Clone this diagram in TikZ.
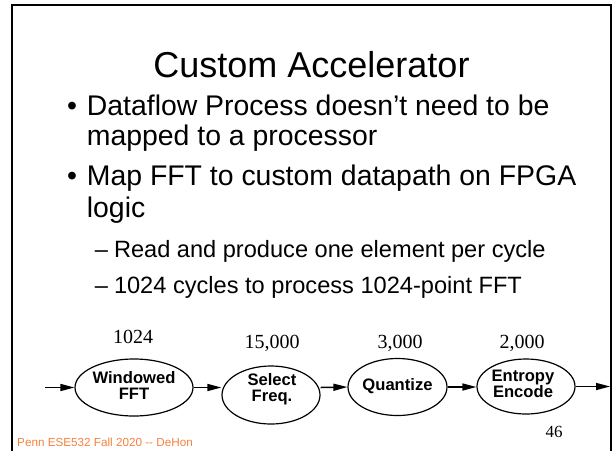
\documentclass[tikz,border=0pt]{standalone}
\usepackage{fontspec}
\setmainfont{Liberation Sans}
\newfontfamily\numfont{Liberation Serif}
\usetikzlibrary{shapes.geometric,arrows.meta}
\definecolor{footorange}{HTML}{F5813F}
\begin{document}
\begin{tikzpicture}[x=1pt,y=-1pt,
  txt/.style={inner sep=0pt,anchor=base west},
  proc/.style={draw,ellipse,line width=1.2pt,inner sep=0pt},
  proclbl/.style={inner sep=0pt,align=center,font=\fontsize{16.6}{15.5}\selectfont\bfseries},
  cnt/.style={inner sep=0pt,anchor=base,font=\numfont\fontsize{20}{24}\selectfont},
  flow/.style={line width=1.5pt,-{Triangle[length=14pt,width=7pt]}}]
\useasboundingbox (0,0) rectangle (613,451);
% slide frame (open at the bottom)
\draw[line width=2.4pt] (12,451) -- (12,5) -- (611,5) -- (611,451);
% title
\node[inner sep=0pt,anchor=base,font=\fontsize{36}{40}\selectfont] (title) at (311.5,77) {Custom Accelerator};
% bullets
\begin{scope}[font=\fontsize{28.4}{32}\selectfont]
\node[txt] (b1) at (67,115) {•};
\node[txt] (b1a) at (86.7,115) {Dataflow Process doesn’t need to be};
\node[txt] (b1b) at (86.7,145) {mapped to a processor};
\node[txt] (b2) at (67,185) {•};
\node[txt] (b2a) at (86.7,185) {Map FFT to custom datapath on FPGA};
\node[txt] (b2b) at (86.7,217) {logic};
\end{scope}
\begin{scope}[font=\fontsize{23.6}{28}\selectfont]
\node[txt] (s1) at (94.6,257) {–};
\node[txt] (s1a) at (113.8,257) {Read and produce one element per cycle};
\node[txt] (s2) at (94.6,293) {–};
\node[txt] (s2a) at (113.8,293) {1024 cycles to process 1024-point FFT};
\end{scope}
% process ellipses
\node[proc,minimum width=118pt,minimum height=57pt] (fft) at (134,387.5) {};
\node[proc,minimum width=98pt,minimum height=58pt] (sel) at (271,395) {};
\node[proc,minimum width=99pt,minimum height=57pt] (quant) at (397.5,387) {};
\node[proc,minimum width=98pt,minimum height=55pt] (ent) at (526,386.5) {};
\node[proclbl] (fftT) at (134,385.5) {Windowed\\FFT};
\node[proclbl] (selT) at (272,389) {Select\\Freq.};
\node[proclbl] (quantT) at (397.5,386) {Quantize};
\node[proclbl] (entT) at (523,384) {Entropy\\Encode};
% counts
\node[cnt] (c1) at (133,343) {1024};
\node[cnt] (c2) at (272,348) {15,000};
\node[cnt] (c3) at (400,348) {3,000};
\node[cnt] (c4) at (522,348) {2,000};
% connectors
\coordinate (src) at (45,387.5);
\coordinate (sink) at (610,386.5);
\draw[flow] (src) -- (fft.west);
\draw[flow] (fft.east) -- (fft.east -| sel.west);
\draw[flow] (fft.east -| sel.east) -- (quant.west);
\draw[flow] (quant.east) -- (quant.east -| ent.west);
\draw[flow] (ent.east) -- (sink);
% footer and page number
\node[inner sep=0pt,anchor=base west,text=footorange,font=\fontsize{11.7}{14}\selectfont] (foot) at (17,446) {Penn ESE532 Fall 2020 {-}{-} DeHon};
\node[inner sep=0pt,anchor=base,font=\numfont\fontsize{17}{20}\selectfont] (page) at (554,437.5) {46};
\end{tikzpicture}
\end{document}
